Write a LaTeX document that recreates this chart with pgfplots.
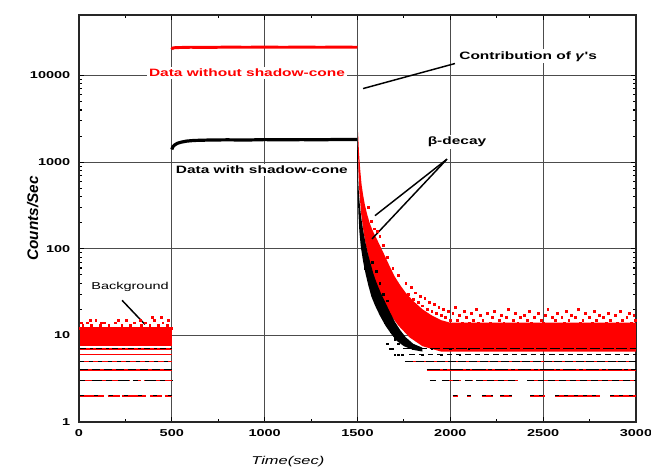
\documentclass[border=0pt]{standalone}
\usepackage{pgfplots}
\pgfplotsset{compat=1.18}
\usepackage{fontspec}
\setmainfont{Liberation Sans}
\newfontfamily\wsf[FakeStretch=1.45]{Liberation Sans}
\newfontfamily\nsf{Liberation Sans}
\begin{document}
\begin{tikzpicture}
\useasboundingbox (-59.25pt,-38.25pt) rectangle (429pt,316.5pt);
\begin{axis}[
  at={(0pt,0pt)}, anchor=south west,
  scale only axis, width=417.75pt, height=305.25pt,
  xmin=0, xmax=3000, ymode=log, ymin=1, ymax=50000,
  xtick={0,500,1000,1500,2000,2500,3000},
  xticklabels={0,500,1000,1500,2000,2500,3000},
  minor x tick num=1,
  ytick={1,10,100,1000,10000}, yticklabels={1,10,100,1000,10000},
  grid=major, major grid style={line width=0.8pt, black!70},
  axis line style={line width=1.4pt, black!85},
  tick align=inside, tick pos=both,
  major tick length=4pt, minor tick length=2.5pt,
  every tick/.style={black, line width=0.8pt},
  ticklabel style={font=\wsf\bfseries\fontsize{7.5}{8}\selectfont},
  yticklabel style={xshift=-3pt},
  xticklabel style={yshift=-2pt},
  xlabel={Time(sec)},
  xlabel style={font=\wsf\itshape\fontsize{8.5}{10}\selectfont, at={(axis description cs:0.375,0)}, anchor=center, yshift=-30pt},
  ylabel={Counts/Sec},
  ylabel style={font=\nsf\bfseries\itshape\fontsize{11.5}{13}\selectfont, at={(axis description cs:-0.083,0.5)}, anchor=center},
  unbounded coords=jump,
]
% ---------- background region 0-500 ----------
\addplot[fill=red, draw=none] coordinates {(3,7.5)(500,7.5)(500,12.5)(3,12.5)};
\addplot[red, line width=1.2pt] coordinates {(3,7)(500,7)};
\addplot[red, line width=1.2pt] coordinates {(3,6)(500,6)};
\addplot[red, line width=1.2pt] coordinates {(3,5)(500,5)};
\addplot[red, line width=1.2pt] coordinates {(3,4)(500,4)};
\addplot[red, line width=1.1pt, dash pattern=on 14pt off 2pt on 6pt off 2pt] coordinates {(3,3)(500,3)};
\addplot[red, line width=1.1pt, dash pattern=on 18pt off 3pt on 9pt off 2pt] coordinates {(3,2)(500,2)};
\addplot[black, line width=0.8pt, dash pattern=on 5pt off 3pt on 2pt off 2pt] coordinates {(3,7)(500,7)};
\addplot[black, line width=0.7pt, dash pattern=on 3pt off 4pt] coordinates {(3,5)(500,5)};
\addplot[black, line width=0.8pt, dash pattern=on 6pt off 3pt] coordinates {(3,4)(500,4)};
\addplot[black, line width=0.8pt, dash pattern=on 4pt off 5pt on 8pt off 3pt] coordinates {(3,3)(500,3)};
\addplot[black, line width=0.7pt, dash pattern=on 3pt off 8pt] coordinates {(3,2)(500,2)};
\addplot[red, only marks, mark=square*, mark size=0.7pt] coordinates {
(8,12)(20,13)(31,11)(43,14)(55,12)(66,13)(78,11)(90,15)(101,12)(113,13)(125,11)(136,14)
(148,12)(160,13)(171,11)(183,12)(195,14)(206,12)(218,11)(230,13)(241,12)(253,15)(265,11)
(276,13)(288,12)(300,14)(311,11)(323,12)(335,13)(346,12)(358,14)(370,11)(381,13)(393,12)
(405,15)(416,11)(428,13)(440,12)(451,14)(463,12)(475,13)(486,11)(497,12)
(14,14)(60,15)(120,14)(210,15)(330,15)(395,16)(445,16)(480,15)};
% ---------- plateaus ----------
\addplot[red, line width=2.2pt] coordinates {(500,20000)(505,20800)(520,21000)(600,21200)(700,21100)(800,21300)(900,21200)(1000,21300)(1100,21200)(1200,21300)(1300,21200)(1400,21300)(1500,21200)};
\addplot[black, line width=2.4pt] coordinates {(500,1400)(505,1500)(515,1580)(530,1650)(550,1700)(580,1750)(620,1780)(700,1800)(800,1810)(900,1800)(1000,1820)(1100,1810)(1200,1820)(1300,1810)(1400,1830)(1500,1830)};
% ---------- decay, red ----------
\addplot[fill=red, draw=none] coordinates {
(1503,2200)(1508,1300)(1515,800)(1522,550)(1530,420)(1540,320)(1552,250)(1565,200)(1580,165)
(1600,135)(1620,110)(1645,85)(1670,65)(1700,48)(1730,38)(1760,31)(1800,25)(1850,20)(1900,17)
(1950,15)(2000,14)(2100,14)(3000,14)
(3000,6.5)(1950,6.5)(1850,7.5)(1780,9.5)(1720,13)(1680,17)(1650,22)(1620,30)(1595,42)(1575,58)
(1560,80)(1545,110)(1532,160)(1520,250)(1510,450)(1505,800)(1503,1500)};
% ---------- tail levels ----------
\addplot[red, line width=1.2pt] coordinates {(1760,5)(3000,5)};
\addplot[red, line width=1.2pt] coordinates {(1874,4)(3000,4)};
\addplot[red, line width=1.1pt] coordinates {(1890,3)(1925,3)(1940,nan)(1955,3)(2060,3)(2070,nan)(2080,3)(2120,3)(2130,nan)(2140,3)(2365,3)(2390,nan)(2413,3)(3000,3)};
\addplot[red, line width=1.1pt] coordinates {(2013,2)(2040,2)(2060,nan)(2090,2)(2110,2)(2140,nan)(2170,2)(2230,2)(2250,nan)(2268,2)(2333,2)(2380,nan)(2430,2)(2510,2)(2540,nan)(2564,2)(2806,2)(2830,nan)(2860,2)(3000,2)};
\addplot[black, line width=0.9pt, dash pattern=on 8pt off 2pt] coordinates {(1745,7)(3000,7)};
\addplot[black, line width=0.8pt, dash pattern=on 4pt off 3pt] coordinates {(1780,6)(3000,6)};
\addplot[black, line width=0.9pt, dash pattern=on 6pt off 2pt] coordinates {(1755,5)(3000,5)};
\addplot[black, line width=0.9pt, dash pattern=on 10pt off 2pt on 3pt off 2pt] coordinates {(1874,4)(3000,4)};
\addplot[black, line width=0.8pt, dash pattern=on 5pt off 3pt] coordinates {(1890,3)(1925,3)(1940,nan)(1955,3)(2060,3)(2070,nan)(2080,3)(2120,3)(2130,nan)(2140,3)(2365,3)(2390,nan)(2413,3)(3000,3)};
\addplot[black, line width=0.7pt, dash pattern=on 3pt off 4pt] coordinates {(2013,2)(2040,2)(2060,nan)(2090,2)(2110,2)(2140,nan)(2170,2)(2230,2)(2250,nan)(2268,2)(2333,2)(2380,nan)(2430,2)(2510,2)(2540,nan)(2564,2)(2806,2)(2830,nan)(2860,2)(3000,2)};
% ---------- decay, black ----------
\addplot[fill=black, draw=none] coordinates {
(1498,1850)(1502,1300)(1504,600)(1508,420)(1514,300)(1520,230)(1530,165)(1542,120)(1555,90)
(1570,68)(1585,52)(1600,42)(1625,31)(1650,24)(1675,18.5)(1700,14.5)(1730,11.5)(1760,9.5)(1800,8)(1850,7.2)
(1850,6.5)(1800,6.8)(1750,7.5)(1710,8.7)(1680,10.5)(1650,13)(1620,17)(1595,22)(1575,28)(1558,38)
(1543,52)(1530,72)(1518,105)(1510,160)(1505,260)(1501,450)(1498,1000)};
\addplot[black, only marks, mark=square*, mark size=0.6pt] coordinates {
(1540,60)(1555,50)(1570,38)(1590,28)(1610,22)(1630,18)(1650,14)(1680,11)(1700,9)(1720,8)
(1620,40)(1640,30)(1660,25)(1580,70)(1600,55)(1675,7)(1690,7)(1720,6)(1740,6)(1660,8)(1700,6)
(1800,7)(1850,6)(1900,7)(1950,6)(2000,7)(2050,6)(2100,7)};
% ---------- red scatter ----------
\addplot[red, only marks, mark=square*, mark size=0.7pt] coordinates {
(1560,300)(1575,210)(1590,170)(1605,160)(1620,140)(1640,110)(1660,80)(1690,60)(1720,50)
(1580,95)(1610,70)(1650,45)(1700,28)(1740,22)
(1760,40)(1775,30)(1790,36)(1800,26)(1812,31)(1825,24)(1838,28)(1850,22)(1862,27)(1875,20)
(1888,24)(1900,19)(1912,23)(1925,18)(1938,21)(1950,17)(1963,20)(1975,16)(1988,19)(2000,15)
(2013,18)(2025,21)(2038,15)(2050,17)(2063,14)(2075,19)(2088,16)(2100,14)(2113,18)(2125,15)
(2138,20)(2150,14)(2163,17)(2175,15)(2188,13)(2200,18)(2213,14)(2225,16)(2238,19)(2250,13)
(2263,15)(2275,17)(2288,14)(2300,16)(2313,20)(2325,13)(2338,15)(2350,18)(2363,14)(2375,16)
(2388,13)(2400,17)(2413,15)(2425,19)(2438,14)(2450,16)(2463,13)(2475,18)(2488,15)(2500,14)
(2513,17)(2525,20)(2538,13)(2550,16)(2563,15)(2575,18)(2588,13)(2600,16)(2613,14)(2625,19)
(2638,15)(2650,17)(2663,13)(2675,16)(2688,20)(2700,14)(2713,15)(2725,18)(2738,13)(2750,16)
(2763,14)(2775,19)(2788,15)(2800,17)(2813,13)(2825,16)(2838,14)(2850,18)(2863,15)(2875,13)
(2888,17)(2900,14)(2913,19)(2925,15)(2938,13)(2950,16)(2963,18)(2975,14)(2988,17)(2998,15)};
% ---------- annotations ----------
\node[fill=white, text=red, inner sep=1.5pt, font=\wsf\bfseries\fontsize{8}{9}\selectfont] at (axis cs:905,10800) {Data without shadow-cone};
\node[fill=white, inner sep=1.5pt, font=\wsf\bfseries\fontsize{8}{9}\selectfont] at (axis cs:985,810) {Data with shadow-cone};
\node[fill=white, inner sep=1.5pt, font=\wsf\bfseries\fontsize{8}{9}\selectfont] at (axis cs:2419,16600) {Contribution of \textit{γ}'s};
\node[fill=white, inner sep=1.5pt, font=\wsf\bfseries\fontsize{8}{9}\selectfont] at (axis cs:2036,1700) {β-decay};
\node[fill=white, inner sep=1pt, font=\wsf\fontsize{7.5}{9}\selectfont] at (axis cs:275,36) {Background};
\draw[line width=1.1pt] (axis cs:2025,13760) -- (axis cs:1530,7070);
\draw[line width=1.1pt] (axis cs:1982,1083) -- (axis cs:1594,241);
\draw[line width=1.1pt] (axis cs:1982,1083) -- (axis cs:1578,130);
\draw[line width=1.1pt] (axis cs:232,25.4) -- (axis cs:355,13.4);
\end{axis}
\end{tikzpicture}
\end{document}
